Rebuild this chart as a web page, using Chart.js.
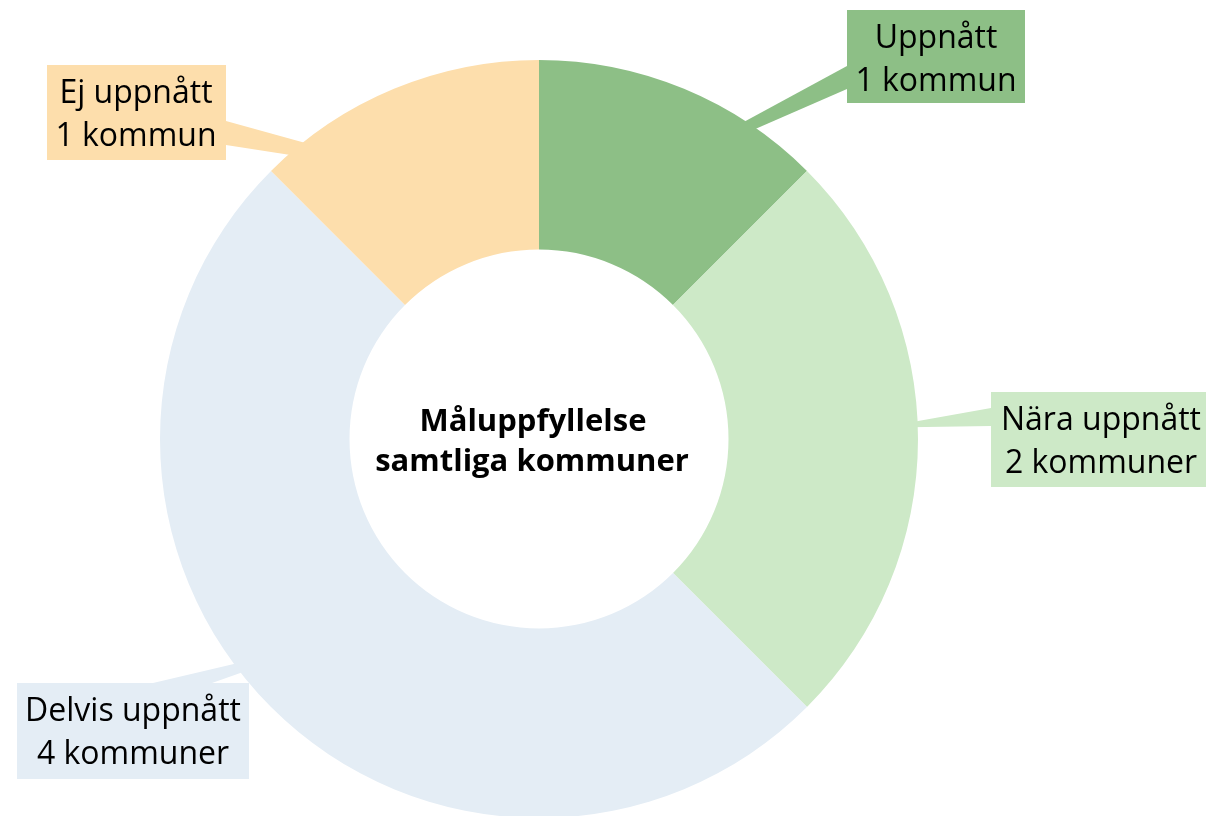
<!DOCTYPE html>
<html>
<head>
    <meta charset="utf-8">
    <title>Måluppfyllelse samtliga kommuner</title>
    <script src="https://cdn.jsdelivr.net/npm/chart.js"></script>
    <style>
        body { margin: 0; background: #fff; overflow: hidden; }
        #wrap { width: 1206px; height: 820px; }
    </style>
</head>
<body>
    <div id="wrap">
        <canvas id="goalChart" width="1206" height="820"></canvas>
    </div>
    <script>
        // Data
        const labels = ['Uppnått', 'Nära uppnått', 'Delvis uppnått', 'Ej uppnått'];
        const values = [1, 2, 4, 1];
        const colors = ['#8dbf86', '#cde9c7', '#e4edf5', '#fddeac'];
        const centerLines = ['Måluppfyllelse', 'samtliga kommuner'];

        // Label boxes: position of each box and where its connector leaves it.
        // ang = angle (deg, clockwise from top) where the connector meets the ring
        const boxes = [
            { x: 847, y: 10, w: 178, h: 93, tx: 936, base: [[847, 66], [847, 89]], ang: [33, 35] },
            { x: 991, y: 392, w: 220, h: 95, tx: 1101, base: [[991, 408], [991, 426]], ang: [87.3, 88.2] },
            { x: 17, y: 683, w: 232, h: 96, tx: 133, base: [[153, 683], [212, 683]], ang: [233.6, 231.9] },
            { x: 47, y: 65, w: 179, h: 95, tx: 136, base: [[226, 121], [226, 145]], ang: [321.5, 318.6] },
        ];

        Chart.defaults.font.family = "'Open Sans', sans-serif";

        function ringPoint(arc, deg, extendFrom) {
            const a = (deg - 90) * Math.PI / 180;
            const px = arc.x + arc.outerRadius * Math.cos(a);
            const py = arc.y + arc.outerRadius * Math.sin(a);
            const dx = px - extendFrom[0], dy = py - extendFrom[1];
            const len = Math.sqrt(dx * dx + dy * dy);
            return [px + dx / len * 25, py + dy / len * 25];
        }

        const calloutPlugin = {
            id: 'callouts',
            beforeDatasetsDraw(chart) {
                const ctx = chart.ctx;
                const meta = chart.getDatasetMeta(0);
                ctx.save();
                boxes.forEach((b, i) => {
                    const arc = meta.data[i];
                    const p1 = ringPoint(arc, b.ang[0], b.base[0]);
                    const p2 = ringPoint(arc, b.ang[1], b.base[1]);
                    ctx.fillStyle = colors[i];
                    ctx.beginPath();
                    ctx.moveTo(b.base[0][0], b.base[0][1]);
                    ctx.lineTo(b.base[1][0], b.base[1][1]);
                    ctx.lineTo(p2[0], p2[1]);
                    ctx.lineTo(p1[0], p1[1]);
                    ctx.closePath();
                    ctx.fill();
                });
                ctx.restore();
            },
            afterDraw(chart) {
                const ctx = chart.ctx;
                const meta = chart.getDatasetMeta(0);
                const arc = meta.data[0];
                ctx.save();
                boxes.forEach((b, i) => {
                    ctx.fillStyle = colors[i];
                    ctx.fillRect(b.x, b.y, b.w, b.h);
                    ctx.fillStyle = '#000';
                    ctx.font = "32px 'Open Sans'";
                    ctx.textAlign = 'center';
                    ctx.textBaseline = 'alphabetic';
                    const n = values[i];
                    ctx.fillText(labels[i], b.tx, b.y + 38);
                    ctx.fillText(n + (n === 1 ? ' kommun' : ' kommuner'), b.tx, b.y + 81);
                });
                // center title
                ctx.fillStyle = '#000';
                ctx.font = "bold 31px 'Open Sans'";
                ctx.textAlign = 'center';
                ctx.fillText(centerLines[0], arc.x - 6, arc.y - 8);
                ctx.fillText(centerLines[1], arc.x - 7, arc.y + 32);
                ctx.restore();
            }
        };

        new Chart(document.getElementById('goalChart').getContext('2d'), {
            type: 'doughnut',
            data: {
                labels: labels,
                datasets: [{
                    data: values,
                    backgroundColor: colors,
                    borderWidth: 0,
                    hoverOffset: 0,
                }],
            },
            options: {
                responsive: false,
                animation: false,
                cutout: '50%',
                layout: { padding: { top: 60, bottom: 2, left: 160, right: 288 } },
                plugins: {
                    legend: { display: false },
                    tooltip: { enabled: false },
                },
            },
            plugins: [calloutPlugin],
        });
    </script>
</body>
</html>
